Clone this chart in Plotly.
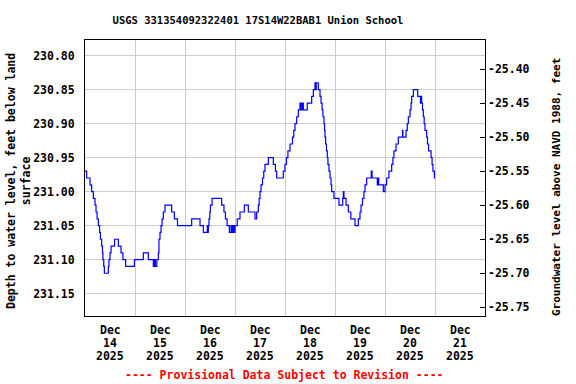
import pandas as pd
import plotly.graph_objects as go

# ---- data: hours since 2025-12-14 00:00 and depth to water (ft below land surface)
hours = [0.0, 0.8, 2.4, 3.2, 4.0, 4.8, 5.3, 5.8, 6.4, 7.0, 7.4, 8.0, 8.4, 8.6, 9.0, 9.3,
         11.2, 11.5, 12.0, 12.5, 14.2, 16.0, 17.3, 18.2, 19.5, 23.7, 28.0, 30.4, 32.8, 33.3,
         33.8, 34.5, 35.2, 35.5, 36.0, 36.5, 37.0, 37.6, 38.4, 41.6, 42.9, 44.4, 51.2, 55.2,
         56.8, 58.7, 59.0, 59.2, 59.5, 59.9, 60.2, 61.0, 65.6, 66.7, 67.4, 68.2, 69.3, 70.1,
         70.6, 71.0, 71.5, 72.0, 73.1, 74.4, 76.5, 78.4, 81.6, 82.4, 83.2, 83.6, 84.0, 84.5,
         85.2, 85.8, 86.4, 88.0, 90.4, 91.4, 92.0, 95.2, 96.0, 96.7, 97.4, 98.4, 99.6, 100.2,
         100.8, 101.6, 102.4, 103.2, 103.7, 104.3, 104.8, 106.7, 108.8, 109.6, 110.4, 110.7,
         111.0, 112.0, 112.8, 113.3, 113.8, 114.2, 114.7, 115.0, 115.2, 115.5, 115.9, 116.3,
         116.6, 117.1, 117.6, 118.1, 118.4, 119.5, 121.9, 123.7, 124.0, 124.3, 125.3, 126.4,
         127.6, 129.6, 131.2, 132.0, 132.5, 133.2, 133.9, 134.4, 135.2, 137.4, 137.8, 140.3,
         140.6, 141.0, 143.2, 144.0, 144.8, 145.9, 147.2, 147.8, 148.3, 149.3, 150.4, 152.4,
         152.6, 154.1, 154.7, 155.2, 156.0, 156.5, 156.8, 157.6, 159.7, 161.0, 161.3, 161.6,
         162.0, 162.4, 162.8, 163.2, 164.0, 164.4, 164.9, 166.1, 166.6, 167.0, 167.7, 168.1]
depth = [230.97, 230.98, 230.99, 231.00, 231.01, 231.02, 231.03, 231.04, 231.05, 231.06, 231.07, 231.08, 231.09, 231.10, 231.11, 231.12,
         231.11, 231.10, 231.09, 231.08, 231.07, 231.08, 231.09, 231.10, 231.11, 231.10, 231.09, 231.10, 231.11, 231.10,
         231.11, 231.10, 231.09, 231.07, 231.06, 231.05, 231.04, 231.03, 231.02, 231.03, 231.04, 231.05, 231.04, 231.05,
         231.06, 231.05, 231.06, 231.05, 231.04, 231.03, 231.02, 231.01, 231.02, 231.03, 231.04, 231.05, 231.06, 231.05,
         231.06, 231.05, 231.06, 231.05, 231.04, 231.03, 231.02, 231.03, 231.04, 231.03, 231.02, 231.01, 231.00, 230.99,
         230.98, 230.97, 230.96, 230.95, 230.96, 230.97, 230.98, 230.97, 230.96, 230.95, 230.94, 230.93, 230.92, 230.91,
         230.90, 230.89, 230.88, 230.87, 230.88, 230.87, 230.88, 230.87, 230.86, 230.85, 230.84, 230.85,
         230.84, 230.85, 230.86, 230.87, 230.88, 230.89, 230.90, 230.91, 230.92, 230.93, 230.94, 230.95,
         230.96, 230.97, 230.98, 230.99, 231.00, 231.01, 231.02, 231.01, 231.00, 231.01, 231.02, 231.03,
         231.04, 231.05, 231.04, 231.03, 231.02, 231.01, 231.00, 230.99, 230.98, 230.97, 230.98, 230.99,
         230.98, 230.99, 231.00, 230.99, 230.98, 230.97, 230.96, 230.95, 230.94, 230.93, 230.92, 230.91,
         230.92, 230.91, 230.90, 230.89, 230.88, 230.87, 230.86, 230.85, 230.86, 230.87, 230.86, 230.87,
         230.88, 230.89, 230.90, 230.91, 230.92, 230.93, 230.94, 230.95, 230.96, 230.97, 230.98, 230.98]

datum_offset = 205.42  # elevation = datum_offset - depth (NAVD 1988)

left_ticks = [230.80, 230.85, 230.90, 230.95, 231.00, 231.05, 231.10, 231.15]
right_ticks = [-25.40, -25.45, -25.50, -25.55, -25.60, -25.65, -25.70, -25.75]
day_labels = ["14", "15", "16", "17", "18", "19", "20", "21"]
month_label = "Dec"
year_label = "2025"

title_text = "USGS 331354092322401 17S14W22BAB1 Union School"
left_title = "Depth to water level, feet below land<br>surface"
right_title = "Groundwater level above NAVD 1988, feet"
footer = "---- Provisional Data Subject to Revision ----"

start = pd.Timestamp("2025-12-14 00:00")
times = [start + pd.Timedelta(hours=h) for h in hours]
elev = [datum_offset - d for d in depth]

FONT = "DejaVu Sans Mono"
W, H = 576, 384
L, R, T, B = 85, 91, 40, 68
PW, PH = W - L - R, H - T - B


def px(xp):
    return (xp - L) / PW


def py(yp):
    return (H - B - yp) / PH


fig = go.Figure()
fig.add_trace(go.Scatter(x=times, y=depth, mode="lines", line=dict(color="#0000ff", width=1.2, shape="hv"),
                         hoverinfo="skip", showlegend=False))
fig.add_trace(go.Scatter(x=times, y=elev, mode="lines", line=dict(color="rgba(0,0,0,0)", width=0, shape="hv"),
                         yaxis="y2", hoverinfo="skip", showlegend=False))

y_lo, y_hi = 230.7772, 231.1828
noon_ticks = [start + pd.Timedelta(hours=12 + 24 * i) for i in range(len(day_labels))]
midnights = [start + pd.Timedelta(days=i) for i in range(1, 8)]

bold = dict(family=FONT, size=11.5, color="black", weight="bold")
annotations = []
line_y = [330, 343, 356]
for t, d in zip(noon_ticks, day_labels):
    for txt, yy in zip([month_label, d, year_label], line_y):
        annotations.append(dict(text=txt, xref="x", yref="paper", x=t, y=py(yy),
                                xanchor="center", yanchor="middle", showarrow=False, font=bold))
annotations.append(dict(text=footer, xref="paper", yref="paper", x=px(284.5), y=py(375),
                        xanchor="center", yanchor="middle", showarrow=False,
                        font=dict(family=FONT, size=11.5, color="#ff0000", weight="bold")))
annotations.append(dict(text=left_title, xref="paper", yref="paper", x=px(18), y=py(181),
                        xanchor="center", yanchor="middle", showarrow=False, textangle=-90, font=bold))
annotations.append(dict(text=right_title, xref="paper", yref="paper", x=px(557), y=py(187),
                        xanchor="center", yanchor="middle", showarrow=False, textangle=-90,
                        font=dict(family=FONT, size=11, color="black", weight="bold")))

fig.update_layout(
    width=W, height=H,
    margin=dict(l=L, r=R, t=T, b=B, autoexpand=False),
    paper_bgcolor="white", plot_bgcolor="white",
    font=bold,
    title=dict(text=title_text, x=258 / W, xanchor="center", y=1 - 20 / H, yanchor="middle",
               font=dict(family=FONT, size=10.5, color="black", weight="bold")),
    xaxis=dict(
        range=[start, start + pd.Timedelta(days=8)],
        tickmode="array", tickvals=noon_ticks, showticklabels=False,
        showgrid=False, ticks="", automargin=False,
        showline=True, linecolor="black", linewidth=1, mirror=True, zeroline=False,
        minor=dict(tickmode="array", tickvals=midnights, showgrid=True, gridcolor="#cccccc", gridwidth=1,
                   ticks=""),
    ),
    yaxis=dict(
        range=[y_hi, y_lo], tickmode="array", tickvals=left_ticks,
        ticktext=["%.2f" % v for v in left_ticks], automargin=False,
        showgrid=True, gridcolor="#cccccc", gridwidth=1, ticks="", ticklabelstandoff=7,
        showline=True, linecolor="black", linewidth=1, mirror=True, zeroline=False,
    ),
    yaxis2=dict(
        range=[datum_offset - y_hi, datum_offset - y_lo], overlaying="y", side="right",
        tickmode="array", tickvals=right_ticks, ticktext=["%.2f" % v for v in right_ticks],
        showgrid=False, ticks="inside", ticklen=5, tickcolor="black", ticklabelstandoff=2,
        showline=False, zeroline=False, automargin=False,
    ),
    annotations=annotations,
)

fig.write_html("out.html", config={"displayModeBar": False},
               post_script="document.body.style.margin='0';")
